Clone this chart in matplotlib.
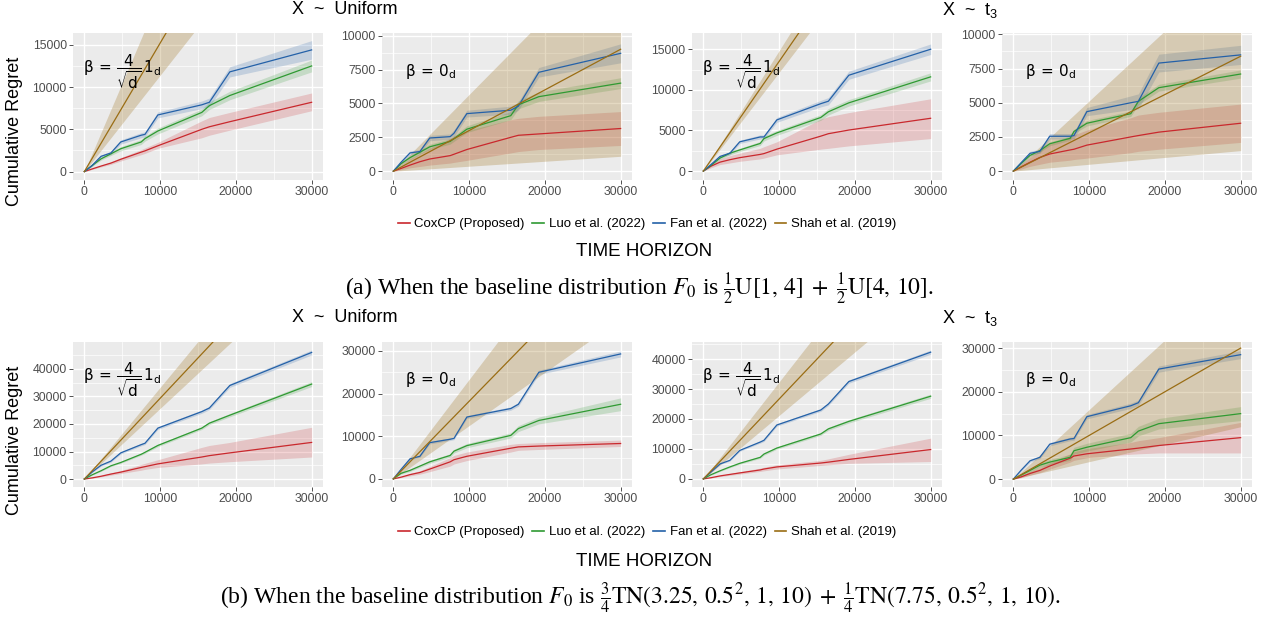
import matplotlib
matplotlib.use('Agg')
import matplotlib.pyplot as plt
from matplotlib.lines import Line2D
from matplotlib.ticker import MultipleLocator

plt.rcParams['font.family'] = ['Liberation Sans', 'DejaVu Sans']

W, H = 1269, 619

# time grid shared by the three piecewise curves, Shah et al. is a straight line
T = [0, 1000, 2200, 3500, 4800, 7500, 8000, 9700, 15500, 16500, 19200, 30000]
T_SHAH = [0, 30000]

# ---- (a) baseline 1/2 U[1,4] + 1/2 U[4,10]
# X ~ Uniform, beta = 4/sqrt(d) 1_d
a1_cox = [0, 300, 650, 1000, 1450, 2300, 2450, 3050, 5000, 5300, 5900, 8200]
a1_cox_lo = [0, 250, 550, 850, 1250, 2000, 2150, 2750, 4000, 4300, 4900, 7200]
a1_cox_hi = [0, 350, 750, 1150, 1650, 2600, 2800, 3450, 6000, 6400, 7000, 9300]
a1_luo = [0, 700, 1500, 2100, 2700, 3500, 3900, 4800, 7000, 7800, 9000, 12500]
a1_luo_w = [0, 100, 150, 200, 250, 300, 300, 350, 400, 450, 500, 700]
a1_fan = [0, 700, 1800, 2200, 3500, 4300, 4400, 6700, 7900, 8200, 11800, 14400]
a1_fan_w = [0, 100, 150, 200, 250, 300, 300, 350, 450, 500, 600, 1100]
a1_shah = [0, 45600]
a1_shah_lo = [0, 34200]
a1_shah_hi = [0, 63000]

# X ~ Uniform, beta = 0_d
a2_cox = [0, 200, 450, 700, 900, 1150, 1250, 1600, 2500, 2650, 2750, 3150]
a2_cox_lo = [0, 100, 250, 350, 450, 600, 650, 800, 1350, 1450, 1600, 1900]
a2_cox_hi = [0, 400, 900, 1300, 1700, 2400, 2600, 3000, 3800, 3900, 4050, 4400]
a2_luo = [0, 550, 1000, 1400, 1800, 2200, 2400, 3100, 4100, 4900, 5500, 6500]
a2_luo_w = [0, 100, 150, 150, 200, 200, 200, 250, 300, 300, 350, 400]
a2_fan = [0, 650, 1350, 1450, 2450, 2550, 2800, 4250, 4500, 4800, 7300, 8700]
a2_fan_w = [0, 100, 150, 150, 200, 200, 250, 250, 300, 300, 350, 700]
a2_shah = [0, 9000]
a2_shah_lo = [0, 1100]
a2_shah_hi = [0, 17000]

# X ~ t3, beta = 4/sqrt(d) 1_d
a3_cox = [0, 600, 1100, 1400, 1650, 2050, 2150, 2700, 4300, 4600, 5050, 6500]
a3_cox_lo = [0, 400, 800, 1000, 1200, 1500, 1600, 2000, 2700, 2800, 3100, 4000]
a3_cox_hi = [0, 800, 1500, 1900, 2200, 2800, 3000, 3600, 6400, 6700, 7200, 8900]
a3_luo = [0, 700, 1600, 2200, 2600, 3400, 4000, 4700, 6600, 7300, 8400, 11600]
a3_luo_w = [0, 100, 150, 200, 200, 250, 300, 300, 350, 400, 400, 500]
a3_fan = [0, 800, 1800, 2200, 3600, 4200, 4200, 6300, 8300, 8600, 11800, 15000]
a3_fan_w = [0, 100, 150, 200, 200, 250, 250, 300, 400, 450, 500, 650]
a3_shah = [0, 40500]
a3_shah_lo = [0, 36500]
a3_shah_hi = [0, 44500]

# X ~ t3, beta = 0_d
a4_cox = [0, 300, 650, 1000, 1250, 1550, 1600, 1900, 2500, 2600, 2850, 3500]
a4_cox_lo = [0, 150, 350, 500, 650, 800, 850, 950, 1350, 1450, 1600, 2100]
a4_cox_hi = [0, 500, 1000, 1500, 2000, 2500, 2650, 3000, 3900, 4100, 4300, 4900]
a4_luo = [0, 550, 1150, 1500, 2000, 2400, 2900, 3500, 4200, 5100, 6100, 7100]
a4_luo_w = [0, 80, 100, 120, 150, 150, 150, 200, 200, 250, 250, 300]
a4_fan = [0, 600, 1300, 1450, 2550, 2550, 2600, 4350, 5000, 5100, 7900, 8500]
a4_fan_w = [0, 100, 150, 150, 200, 200, 250, 300, 500, 550, 650, 700]
a4_shah = [0, 8400]
a4_shah_lo = [0, 1500]
a4_shah_hi = [0, 15400]

# ---- (b) baseline 3/4 TN(3.25,..) + 1/4 TN(7.75,..)
b1_cox = [0, 400, 1000, 1800, 2500, 4200, 4500, 5500, 8000, 8500, 9500, 13300]
b1_cox_lo = [0, 300, 800, 1400, 2000, 3200, 3500, 4200, 5500, 5800, 6300, 8000]
b1_cox_hi = [0, 500, 1300, 2200, 3100, 5300, 5700, 7000, 11500, 12200, 13300, 18800]
b1_luo = [0, 1500, 3000, 4800, 6000, 9000, 9700, 12200, 18500, 20300, 23200, 34500]
b1_luo_w = [0, 150, 200, 250, 300, 350, 400, 450, 500, 550, 600, 900]
b1_fan = [0, 2500, 5000, 6500, 9500, 12500, 13000, 18500, 24500, 25800, 34000, 46000]
b1_fan_w = [0, 200, 300, 350, 400, 450, 450, 500, 600, 600, 700, 900]
b1_shah = [0, 88000]
b1_shah_lo = [0, 77000]
b1_shah_hi = [0, 100000]

b2_cox = [0, 400, 1000, 1500, 2300, 4000, 4500, 5300, 7200, 7500, 7700, 8300]
b2_cox_lo = [0, 300, 700, 1100, 1700, 3000, 3500, 4300, 6300, 6700, 6900, 7600]
b2_cox_hi = [0, 500, 1300, 1900, 2900, 5000, 5500, 6300, 8100, 8300, 8500, 9100]
b2_luo = [0, 1300, 2000, 3000, 4000, 5500, 6500, 7800, 10200, 11800, 13700, 17500]
b2_luo_w = [0, 200, 250, 300, 350, 400, 450, 500, 600, 700, 800, 1500]
b2_fan = [0, 2200, 4700, 5300, 8500, 9300, 9500, 14500, 16500, 17500, 25000, 29300]
b2_fan_w = [0, 150, 200, 250, 300, 300, 300, 350, 400, 450, 500, 700]
b2_shah = [0, 54600]
b2_shah_lo = [0, 37500]
b2_shah_hi = [0, 70000]

b3_cox = [0, 400, 1000, 1500, 2000, 3000, 3300, 4000, 5300, 5600, 6500, 9800]
b3_cox_lo = [0, 300, 800, 1200, 1600, 2500, 2700, 3300, 4500, 4700, 5200, 5800]
b3_cox_hi = [0, 500, 1200, 1800, 2400, 3600, 3900, 4700, 6200, 6700, 8200, 13600]
b3_luo = [0, 1400, 2700, 4000, 5200, 7200, 8300, 10300, 15000, 16700, 19200, 27600]
b3_luo_w = [0, 150, 200, 250, 300, 350, 400, 400, 450, 500, 550, 700]
b3_fan = [0, 2300, 5000, 6200, 9500, 12300, 12900, 18000, 23000, 25000, 32500, 42300]
b3_fan_w = [0, 150, 200, 250, 300, 350, 400, 400, 450, 500, 550, 700]
b3_shah = [0, 80000]
b3_shah_lo = [0, 63600]
b3_shah_hi = [0, 97200]

b4_cox = [0, 500, 1300, 2000, 3000, 4800, 5300, 5800, 6900, 7100, 7700, 9500]
b4_cox_lo = [0, 300, 900, 1500, 2300, 3900, 4300, 4900, 5700, 5800, 6000, 6000]
b4_cox_hi = [0, 700, 1700, 2600, 3700, 5800, 6300, 7000, 8400, 8800, 9500, 13000]
b4_luo = [0, 900, 2000, 3200, 3900, 5000, 6500, 7300, 9500, 11000, 12700, 15000]
b4_luo_w = [0, 300, 400, 500, 600, 700, 800, 900, 1000, 1100, 1200, 1600]
b4_fan = [0, 2000, 4200, 5000, 8000, 9200, 9300, 14300, 16800, 17500, 25200, 28500]
b4_fan_w = [0, 200, 300, 300, 400, 400, 400, 500, 600, 600, 700, 900]
b4_shah = [0, 30000]
b4_shah_lo = [0, 12000]
b4_shah_hi = [0, 47800]

labels = ['CoxCP (Proposed)', 'Luo et al. (2022)', 'Fan et al. (2022)', 'Shah et al. (2019)']
colors = ['#c9282d', '#2f9a32', '#2461a8', '#9a6d14']
alphas = [0.2, 0.2, 0.2, 0.26]

BETA_BIG = r'$\mathrm{\beta}\,=\,\dfrac{4}{\sqrt{\mathrm{d}}}\,1_\mathrm{d}$'
BETA_ZERO = r'$\mathrm{\beta}\,=\,0_\mathrm{d}$'


def band(mean, width):
    return [m - w for m, w in zip(mean, width)], [m + w for m, w in zip(mean, width)]


def panel(cox, cox_lo, cox_hi, luo, luo_w, fan, fan_w, shah, shah_lo, shah_hi):
    luo_lo, luo_hi = band(luo, luo_w)
    fan_lo, fan_hi = band(fan, fan_w)
    return [(T, cox, cox_lo, cox_hi), (T, luo, luo_lo, luo_hi),
            (T, fan, fan_lo, fan_hi), (T_SHAH, shah, shah_lo, shah_hi)]


panels = [
    # (left px, top px, height px, ylim, y step, annotation, series)
    (73, 33, 147, (-1000, 16400), 5000, BETA_BIG,
     panel(a1_cox, a1_cox_lo, a1_cox_hi, a1_luo, a1_luo_w, a1_fan, a1_fan_w, a1_shah, a1_shah_lo, a1_shah_hi)),
    (382, 33, 147, (-650, 10200), 2500, BETA_ZERO,
     panel(a2_cox, a2_cox_lo, a2_cox_hi, a2_luo, a2_luo_w, a2_fan, a2_fan_w, a2_shah, a2_shah_lo, a2_shah_hi)),
    (692, 33, 147, (-1100, 17000), 5000, BETA_BIG,
     panel(a3_cox, a3_cox_lo, a3_cox_hi, a3_luo, a3_luo_w, a3_fan, a3_fan_w, a3_shah, a3_shah_lo, a3_shah_hi)),
    (1002, 33, 147, (-650, 10100), 2500, BETA_ZERO,
     panel(a4_cox, a4_cox_lo, a4_cox_hi, a4_luo, a4_luo_w, a4_fan, a4_fan_w, a4_shah, a4_shah_lo, a4_shah_hi)),
    (73, 342, 145, (-2900, 49800), 10000, BETA_BIG,
     panel(b1_cox, b1_cox_lo, b1_cox_hi, b1_luo, b1_luo_w, b1_fan, b1_fan_w, b1_shah, b1_shah_lo, b1_shah_hi)),
    (382, 342, 145, (-1900, 32100), 10000, BETA_ZERO,
     panel(b2_cox, b2_cox_lo, b2_cox_hi, b2_luo, b2_luo_w, b2_fan, b2_fan_w, b2_shah, b2_shah_lo, b2_shah_hi)),
    (692, 342, 145, (-2700, 45700), 10000, BETA_BIG,
     panel(b3_cox, b3_cox_lo, b3_cox_hi, b3_luo, b3_luo_w, b3_fan, b3_fan_w, b3_shah, b3_shah_lo, b3_shah_hi)),
    (1002, 342, 145, (-1800, 31400), 10000, BETA_ZERO,
     panel(b4_cox, b4_cox_lo, b4_cox_hi, b4_luo, b4_luo_w, b4_fan, b4_fan_w, b4_shah, b4_shah_lo, b4_shah_hi)),
]

fig = plt.figure(figsize=(W / 100, H / 100), dpi=100)
fig.patch.set_facecolor('white')

for left, top, height, ylim, ystep, note, series in panels:
    ax = fig.add_axes([left / W, 1 - (top + height) / H, 250 / W, height / H])
    ax.set_facecolor('#ebebeb')
    for sp in ax.spines.values():
        sp.set_visible(False)
    # ribbons first, lines on top
    for (x, m, lo, hi), c, a in zip(series, colors, alphas):
        ax.fill_between(x, lo, hi, color=c, alpha=a, lw=0)
    for (x, m, lo, hi), c in zip(series, colors):
        ax.plot(x, m, color=c, lw=0.9)
    ax.set_xlim(-1500, 31500)
    ax.set_ylim(*ylim)
    ax.xaxis.set_major_locator(MultipleLocator(10000))
    ax.xaxis.set_minor_locator(MultipleLocator(5000))
    ax.yaxis.set_major_locator(MultipleLocator(ystep))
    ax.yaxis.set_minor_locator(MultipleLocator(ystep / 2))
    ax.grid(which='major', color='white', lw=1.0)
    ax.grid(which='minor', color='white', lw=0.5)
    ax.set_axisbelow(True)
    ax.tick_params(which='major', length=3, width=0.6, color='#333333',
                   labelcolor='#4d4d4d', labelsize=8.8, pad=1.5)
    ax.tick_params(which='minor', length=0)
    ax.text(0.195, 0.74, note, transform=ax.transAxes, ha='center', va='center',
            fontsize=11, math_fontfamily='dejavusans')

# facet headers, axis titles, legends, captions
for y0 in (10, 318):
    fig.text(345 / W, 1 - y0 / H, 'X  ~  Uniform', ha='center', va='center', fontsize=13)
    fig.text(970 / W, 1 - y0 / H, r'X  ~  $\mathregular{t_3}$', ha='center', va='center', fontsize=13)

fig.text(15 / W, 1 - 131 / H, 'Cumulative Regret', rotation=90, ha='center', va='center', fontsize=13)
fig.text(15 / W, 1 - 440 / H, 'Cumulative Regret', rotation=90, ha='center', va='center', fontsize=13)

handles = [Line2D([0], [0], color=c, lw=1.2) for c in colors]
for y0 in (224, 532):
    fig.legend(handles, labels, loc='center', bbox_to_anchor=(647 / W, 1 - y0 / H),
               ncol=4, frameon=False, fontsize=9.5, handlelength=0.9,
               handletextpad=0.35, columnspacing=0.6, borderaxespad=0)

fig.text(644 / W, 1 - 252 / H, 'TIME HORIZON', ha='center', va='center', fontsize=13.5)
fig.text(644 / W, 1 - 561 / H, 'TIME HORIZON', ha='center', va='center', fontsize=13.5)

fig.text(639 / W, 1 - 289 / H,
         r'(a) When the baseline distribution $F_0$ is '
         r'$\frac{1}{2}\mathrm{U}[1,\,4]\;+\;\frac{1}{2}\mathrm{U}[4,\,10]$.',
         ha='center', va='center', fontsize=17, family='Liberation Serif', math_fontfamily='stix')
fig.text(640 / W, 1 - 598 / H,
         r'(b) When the baseline distribution $F_0$ is '
         r'$\frac{3}{4}\mathrm{TN}(3.25,\,0.5^2,\,1,\,10)\;+\;\frac{1}{4}\mathrm{TN}(7.75,\,0.5^2,\,1,\,10)$.',
         ha='center', va='center', fontsize=17, family='Liberation Serif', math_fontfamily='stix')

fig.savefig('out.png', dpi=100)
